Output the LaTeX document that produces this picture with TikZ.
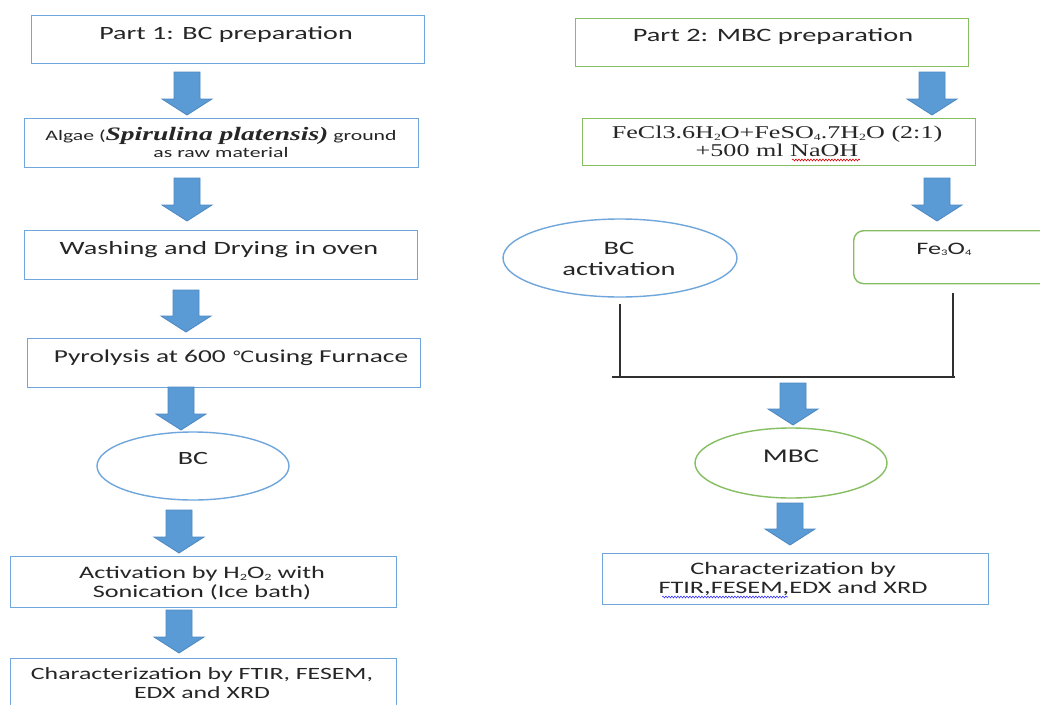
\documentclass[tikz,border=0pt]{standalone}
\usepackage{fontspec}
\setmainfont{Carlito}[FakeStretch=1.5]
\newfontfamily\sansx{Carlito}[FakeStretch=1.5]
\newfontfamily\serifx{Liberation Serif}[FakeStretch=1.45]
\newfontfamily\dejav{DejaVu Sans}[FakeStretch=1.3]
\usetikzlibrary{shapes.geometric,decorations.pathmorphing}
\definecolor{bbord}{HTML}{6FA6DB}
\definecolor{gbord}{HTML}{86BE62}
\definecolor{afill}{HTML}{5B9BD5}
\definecolor{aedge}{HTML}{4D88C2}
\definecolor{txt}{HTML}{262626}
\definecolor{lnk}{HTML}{303030}
\newcommand\dn[1]{\raisebox{-0.3ex}{\fontsize{9.5}{10}\selectfont #1}}
\newcommand\barr[3]{\filldraw[blockarr] (#1-13,#2) -- (#1+13,#2) -- (#1+13,#3-16) -- (#1+25,#3-16) -- (#1,#3) -- (#1-25,#3-16) -- (#1-13,#3-16) -- cycle;}
\tikzset{
  bbox/.style={draw=bbord, line width=1.4pt, rectangle, inner sep=0pt, anchor=north west},
  gbox/.style={draw=gbord, line width=1.4pt, rectangle, inner sep=0pt, anchor=north west},
  bell/.style={draw=bbord, line width=1.4pt, ellipse, inner sep=0pt},
  gell/.style={draw=gbord, line width=1.4pt, ellipse, inner sep=0pt},
  lbl/.style={anchor=base, inner sep=0pt, text=txt, align=center, font=\sansx\fontsize{17.5}{19}\selectfont},
  big/.style={font=\sansx\fontsize{18.7}{21}\selectfont},
  blockarr/.style={fill=afill, draw=aedge, line width=0.8pt},
  joinline/.style={draw=lnk, line width=1.6pt},
}
\begin{document}
\begin{tikzpicture}[x=1pt,y=-1pt]
\path[use as bounding box, fill=white] (0,0) rectangle (1040,704);
% ---------- left column
\node[bbox, minimum width=393pt, minimum height=48pt] (l1) at (31,15) {};
\node[lbl, big] (t1) at (226,39) {Part 1: BC preparation};
\node[bbox, minimum width=394pt, minimum height=49pt] (l2) at (24,118) {};
\node[lbl, font=\sansx\fontsize{14.5}{17}\selectfont] (t2) at (221,157) {Algae ({\serifx\bfseries\itshape\fontsize{19}{17}\selectfont Spirulina platensis)} ground\\as raw material};
\node[bbox, minimum width=393pt, minimum height=49pt] (l3) at (24,230) {};
\node[lbl, font=\sansx\fontsize{18.8}{21}\selectfont] (t3) at (219,254) {Washing and Drying in oven};
\node[bbox, minimum width=393pt, minimum height=49pt] (l4) at (27,338) {};
\node[lbl, font=\sansx\fontsize{18.2}{21}\selectfont] (t4) at (231,362) {Pyrolysis at 600 {\dejav\fontsize{15.5}{15}\selectfont ℃}using Furnace};
\node[bell, minimum width=192pt, minimum height=68pt] (bc) at (193,466) {};
\node[lbl, big] (t5) at (193,464) {BC};
\node[bbox, minimum width=386pt, minimum height=51pt] (l5) at (10,556) {};
\node[lbl] (t6) at (202,597) {Activation by H\dn{2}O\dn{2} with\\Sonication (Ice bath)};
\node[bbox, minimum width=386pt, minimum height=60pt] (l6) at (10,658) {};
\node[lbl, font=\sansx\fontsize{17.2}{19}\selectfont] (t7) at (202,698) {Characterization by FTIR, FESEM,\\EDX and XRD};
\barr{187}{72}{115}
\barr{187}{178}{221}
\barr{186}{290}{332}
\barr{181}{387}{430}
\barr{179}{510}{553}
\barr{179}{610}{653}
% ---------- right column
\node[gbox, minimum width=393pt, minimum height=48pt] (r1) at (575,18) {};
\node[lbl, font=\sansx\fontsize{18.9}{21}\selectfont] (u1) at (773,41) {Part 2: MBC preparation};
\node[gbox, minimum width=393pt, minimum height=47pt] (r2) at (582,118) {};
\node[lbl, font=\serifx\fontsize{18}{18}\selectfont] (u2) at (777,156) {FeCl3.6H\dn{2}O+FeSO\dn{4}.7H\dn{2}O (2:1)\\+500 ml NaOH};
\draw[red!85!black, line width=0.6pt, decorate, decoration={snake, amplitude=0.9pt, segment length=3pt}] (792,160) -- (860,160);
\node[bell, minimum width=234pt, minimum height=78pt] (bca) at (620,258) {};
\node[lbl, font=\sansx\fontsize{19}{21}\selectfont] (u3) at (619,275) {BC\\activation};
\node[gbox, rounded corners=10pt, minimum width=200pt, minimum height=53pt] (fe) at (853,230) {};
\node[lbl, font=\sansx\fontsize{17.5}{19}\selectfont] (u4) at (944,254) {Fe{\raisebox{-0.2ex}{\fontsize{8.5}{9}\selectfont 3}}O{\raisebox{-0.2ex}{\fontsize{8.5}{9}\selectfont 4}}};
\coordinate (jl) at (612,377);
\coordinate (jr) at (955,377);
\draw[joinline] ([yshift=-6pt]bca.south) -- (bca.south |- jl);
\draw[joinline] ([xshift=-0.5pt,yshift=-9pt]fe.south) -- ([xshift=-0.5pt]fe.south |- jr);
\draw[joinline] (jl) -- (jr);
\node[gell, minimum width=192pt, minimum height=70pt] (mbc) at (791,463) {};
\node[lbl, font=\sansx\fontsize{19.5}{21}\selectfont] (u5) at (791,462) {MBC};
\node[bbox, minimum width=386pt, minimum height=51pt] (r3) at (602,553) {};
\node[lbl] (u6) at (793,593) {Characterization by\\FTIR,FESEM,EDX and XRD};
\draw[blue!80!white, line width=0.6pt, decorate, decoration={snake, amplitude=0.9pt, segment length=3pt}] (662,597) -- (788,597);
\barr{932}{72}{115}
\barr{937}{178}{221}
\barr{793}{383}{425}
\barr{790}{503}{545}
\end{tikzpicture}
\end{document}
